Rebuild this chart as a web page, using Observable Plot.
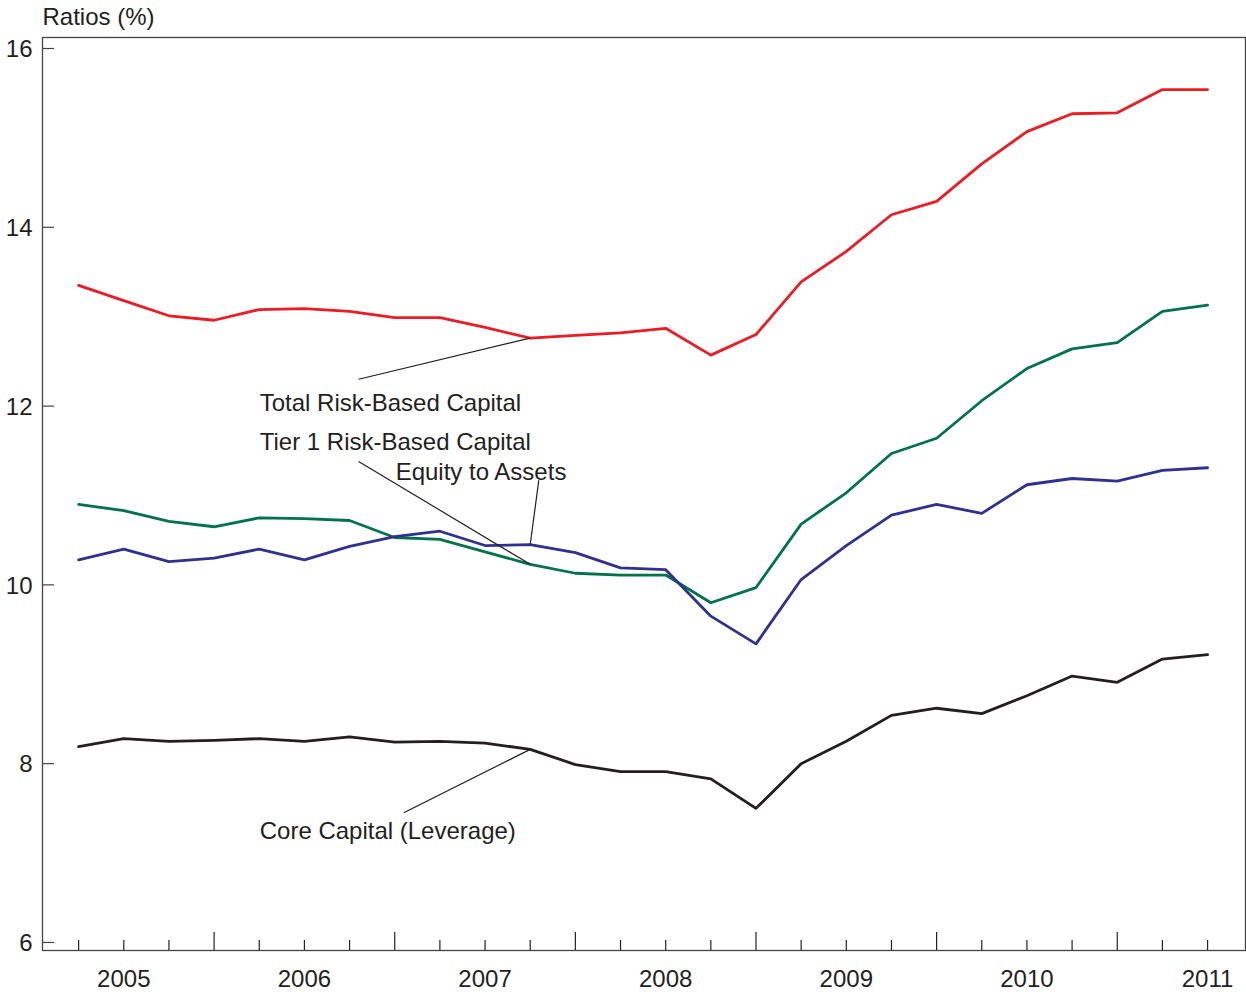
<!DOCTYPE html>
<html>
<head>
<meta charset="utf-8">
<script src="https://cdn.jsdelivr.net/npm/d3@7"></script>
<script src="https://cdn.jsdelivr.net/npm/@observablehq/plot@0.6"></script>
<style>
  html, body { margin: 0; padding: 0; background: #fff; }
  #chart svg { display: block; }
</style>
</head>
<body>
<div id="chart"></div>
<script>
// Quarterly observations, index 0 = 2004 Q4 ... 25 = 2011 Q1
const quarters = d3.range(26);
const totalRiskBased = [13.35, 13.18, 13.01, 12.96, 13.08, 13.09, 13.06, 12.99, 12.99, 12.88, 12.76, 12.79, 12.82, 12.87, 12.57, 12.80, 13.39, 13.73, 14.14, 14.29, 14.71, 15.07, 15.27, 15.28, 15.54, 15.54];
const tier1RiskBased = [10.90, 10.83, 10.71, 10.65, 10.75, 10.74, 10.72, 10.53, 10.51, 10.37, 10.23, 10.13, 10.11, 10.11, 9.80, 9.97, 10.68, 11.03, 11.47, 11.64, 12.06, 12.42, 12.64, 12.71, 13.06, 13.13];
const equityToAssets = [10.28, 10.40, 10.26, 10.30, 10.40, 10.28, 10.43, 10.54, 10.60, 10.44, 10.45, 10.36, 10.19, 10.17, 9.65, 9.34, 10.06, 10.44, 10.78, 10.90, 10.80, 11.12, 11.19, 11.16, 11.28, 11.31];
const coreCapital = [8.19, 8.28, 8.25, 8.26, 8.28, 8.25, 8.30, 8.24, 8.25, 8.23, 8.16, 7.99, 7.91, 7.91, 7.83, 7.50, 8.00, 8.25, 8.54, 8.62, 8.56, 8.76, 8.98, 8.91, 9.17, 9.22];

const seriesNames = ["Total Risk-Based Capital", "Tier 1 Risk-Based Capital", "Equity to Assets", "Core Capital (Leverage)"];
const seriesValues = [totalRiskBased, tier1RiskBased, equityToAssets, coreCapital];
const seriesColors = ["#ed1c24", "#00734a", "#2e3192", "#231f20"];

const yTicks = [6, 8, 10, 12, 14, 16];
const yearLabels = ["2005", "2006", "2007", "2008", "2009", "2010", "2011"];
const yearLabelIdx = [1, 5, 9, 13, 17, 21, 25];
const tallTickIdx = [3, 7, 11, 15, 19, 23];
const title = ["Ratios (%)"];

// Annotation label anchors (quarter index, value) and leader lines
const annLabels = seriesNames;
const annTextX = [4.01, 4.01, 7.02, 4.01];
const annTextY = [12.03, 11.59, 11.26, 7.24];
const leaderX1 = [6.20, 6.20, 10.19, 7.20];
const leaderY1 = [12.30, 11.38, 11.17, 7.45];
const leaderX2 = [10, 10, 10, 10];
const leaderY2 = [12.76, 10.23, 10.45, 8.16];

const rows = [];
seriesNames.forEach((name, s) => {
  quarters.forEach(q => rows.push({series: name, q, v: seriesValues[s][q]}));
});
const anns = annLabels.map((label, i) => ({label, tx: annTextX[i], ty: annTextY[i], x1: leaderX1[i], y1: leaderY1[i], x2: leaderX2[i], y2: leaderY2[i]}));

const W = 1246, H = 994;
const mL = 42, mR = 1, mT = 37, mB = 44;
const frameW = W - mL - mR, frameH = H - mT - mB;
const font = "Liberation Sans, Arial, Helvetica, sans-serif";
const ink = "#231f20";
const fs = 24;

const chart = Plot.plot({
  width: W,
  height: H,
  marginLeft: mL,
  marginRight: mR,
  marginTop: mT,
  marginBottom: mB,
  style: {fontFamily: font, fontSize: fs + "px", color: ink, background: "#fff"},
  x: {domain: [-0.8, 25.84]},
  y: {domain: [5.91, 16.123]},
  color: {domain: seriesNames, range: seriesColors},
  marks: [
    Plot.frame({stroke: "#444", strokeWidth: 1.3}),
    // y ticks, inward from left
    Plot.tickY(yTicks, {y: d => d, stroke: "#444", strokeWidth: 1.2, insetRight: frameW - 12}),
    // x minor ticks (quarters) and taller ticks
    Plot.tickX(quarters.filter(q => !tallTickIdx.includes(q)), {x: d => d, stroke: "#222", strokeWidth: 1.2, insetTop: frameH - 10}),
    Plot.tickX(tallTickIdx, {x: d => d, stroke: "#222", strokeWidth: 1.2, insetTop: frameH - 18}),
    Plot.axisY(yTicks, {tickSize: 0, tickPadding: 10, fontSize: fs, fill: ink, dy: 1, tickFormat: d => String(d)}),
    Plot.axisX(yearLabelIdx, {tickSize: 0, tickPadding: 19, fontSize: fs, fill: ink, tickFormat: d => yearLabels[yearLabelIdx.indexOf(d)]}),
    Plot.text(title, {frameAnchor: "top-left", dy: -20, dx: 0, textAnchor: "start", lineAnchor: "middle", fontSize: fs, fill: ink}),
    Plot.line(rows, {x: "q", y: "v", z: "series", stroke: "series", strokeWidth: 2.8}),
    Plot.link(anns, {x1: "x1", y1: "y1", x2: "x2", y2: "y2", stroke: ink, strokeWidth: 1.2}),
    Plot.text(anns, {x: "tx", y: "ty", text: "label", textAnchor: "start", lineAnchor: "middle", fontSize: fs, fill: ink})
  ]
});
document.getElementById("chart").appendChild(chart);
</script>
</body>
</html>
